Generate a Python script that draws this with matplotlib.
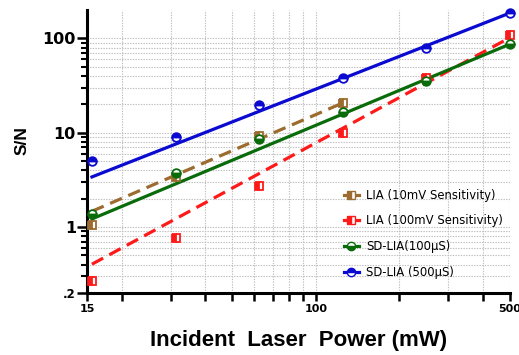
import matplotlib
matplotlib.use("Agg")
import matplotlib.pyplot as plt
from matplotlib.ticker import FixedLocator, NullFormatter, FixedFormatter, NullLocator
from matplotlib.lines import Line2D

plt.rcParams['font.family'] = ['Liberation Sans', 'DejaVu Sans']

# Data
power = [15.625, 31.25, 62.5, 125, 250, 500]
lia10_y = [1.06, 3.4, 9.2, 20.9]
lia100_y = [0.268, 0.763, 2.70, 10.0, 37.8, 108]
sd100_y = [1.37, 3.75, 8.5, 16.7, 35.4, 87]
sd500_y = [5.07, 9.06, 19.5, 37.8, 79.4, 186]

# fitted line end points
lia10_fit_x = [15.625, 125]
lia10_fit_y = [1.47, 20.7]
lia100_fit_x = [15.625, 500]
lia100_fit_y = [0.404, 102]
sd100_fit_x = [15.625, 500]
sd100_fit_y = [1.22, 87]
sd500_fit_x = [15.625, 500]
sd500_fit_y = [3.4, 186]

labels = ["LIA (10mV Sensitivity)", "LIA (100mV Sensitivity)",
          "SD-LIA(100\u03bcS)", "SD-LIA (500\u03bcS)"]
x_ticks = [15, 20, 30, 40, 50, 60, 70, 80, 90, 100, 200, 300, 400, 500]
x_tick_labels = ["15", "", "", "", "", "", "", "", "", "100", "", "", "", "500"]
y_major = [1, 10, 100]
y_major_labels = ["1", "10", "100"]
y_label_02 = ".2"

brown = '#9c6b30'
red = '#ff1a1a'
green = '#0a6b0a'
blue = '#0a0ad0'

fig = plt.figure(figsize=(5.19, 3.55), dpi=100)
ax = fig.add_axes([87/519, 1-293/355, (510-87)/519, (293-10)/355])
ax.set_xscale('log')
ax.set_yscale('log')
ax.set_xlim(15, 500)
ax.set_ylim(0.2, 200)

lw = 2.3
ms = 6.2
# fits
ax.plot(lia10_fit_x, lia10_fit_y, color=brown, lw=lw, ls=(0, (4, 2.2)), zorder=3)
ax.plot(lia100_fit_x, lia100_fit_y, color=red, lw=lw, ls=(0, (4, 2.2)), zorder=3)
ax.plot(sd100_fit_x, sd100_fit_y, color=green, lw=lw, zorder=3)
ax.plot(sd500_fit_x, sd500_fit_y, color=blue, lw=lw, zorder=3)

# points
ax.plot(power[:4], lia10_y, ls='none', marker='s', ms=ms, color=brown, mfc=brown,
        mfcalt='white', fillstyle='left', mec=brown, mew=1.3, clip_on=False, zorder=4)
ax.plot(power, lia100_y, ls='none', marker='s', ms=ms, color=red, mfc=red,
        mfcalt='white', fillstyle='left', mec=red, mew=1.3, clip_on=False, zorder=4)
ax.plot(power, sd100_y, ls='none', marker='o', ms=ms, color=green, mfc=green,
        mfcalt='white', fillstyle='bottom', mec=green, mew=1.3, clip_on=False, zorder=4)
ax.plot(power, sd500_y, ls='none', marker='o', ms=ms, color=blue, mfc=blue,
        mfcalt='white', fillstyle='top', mec=blue, mew=1.3, clip_on=False, zorder=4)

# legend
handles = [
    Line2D([], [], color=brown, lw=2.3, marker='s', ms=6, mfc=brown, mfcalt='white', fillstyle='left', mec=brown),
    Line2D([], [], color=red, lw=2.3, marker='s', ms=6, mfc=red, mfcalt='white', fillstyle='left', mec=red),
    Line2D([], [], color=green, lw=2.3, marker='o', ms=6, mfc=green, mfcalt='white', fillstyle='bottom', mec=green),
    Line2D([], [], color=blue, lw=2.3, marker='o', ms=6, mfc=blue, mfcalt='white', fillstyle='top', mec=blue),
]
leg = ax.legend(handles, labels, loc='upper left', bbox_to_anchor=(338/519, 1-183/355),
                bbox_transform=fig.transFigure, frameon=False,
                prop={'family': 'DejaVu Sans', 'size': 8.4},
                handlelength=1.3, handletextpad=0.6, labelspacing=1.08, borderpad=0)

# ticks
ax.xaxis.set_major_locator(FixedLocator(x_ticks))
ax.xaxis.set_major_formatter(FixedFormatter(x_tick_labels))
ax.xaxis.set_minor_locator(NullLocator())
ax.xaxis.set_minor_formatter(NullFormatter())

y_minor = [v * d for d in (0.1, 1, 10) for v in range(2, 10) if 0.2 <= v * d <= 200]
ax.yaxis.set_major_locator(FixedLocator(y_major + [0.2]))
ax.yaxis.set_major_formatter(FixedFormatter(y_major_labels + [y_label_02]))
ax.yaxis.set_minor_locator(FixedLocator([v for v in y_minor if abs(v - 0.2) > 1e-9]))
ax.yaxis.set_minor_formatter(NullFormatter())

ax.tick_params(axis='x', which='major', length=6, width=1.8, pad=2)
ax.tick_params(axis='y', which='major', length=7, width=1.8, pad=1)
ax.tick_params(axis='y', which='minor', length=4.5, width=1.5)
for lab in ax.get_xticklabels():
    lab.set_fontweight('bold')
    lab.set_family('DejaVu Sans')
    lab.set_fontsize(8)
for lab in ax.get_yticklabels():
    lab.set_fontweight('bold')
    lab.set_family('DejaVu Sans')
    lab.set_fontsize(11.5)
ax.get_yticklabels()[-1].set_fontsize(8.5)

ax.grid(True, which='both', color='#bdbdbd', ls=(0, (1.2, 1.2)), lw=0.8)
ax.set_axisbelow(True)

for s in ('top', 'right'):
    ax.spines[s].set_visible(False)
for s in ('left', 'bottom'):
    ax.spines[s].set_linewidth(2.2)

ax.set_xlabel("Incident  Laser  Power (mW)", fontsize=16, fontweight='bold')
ax.xaxis.set_label_coords(0.5, -(340.5 - 293) / 283)
ax.xaxis.label.set_va('center')
ax.set_ylabel("S/N", fontsize=12.5, fontweight='bold')
ax.yaxis.set_label_coords(-(87 - 22) / 423, (293 - 141) / 283)
ax.yaxis.label.set_va('center')

fig.savefig("out.png", dpi=100)
